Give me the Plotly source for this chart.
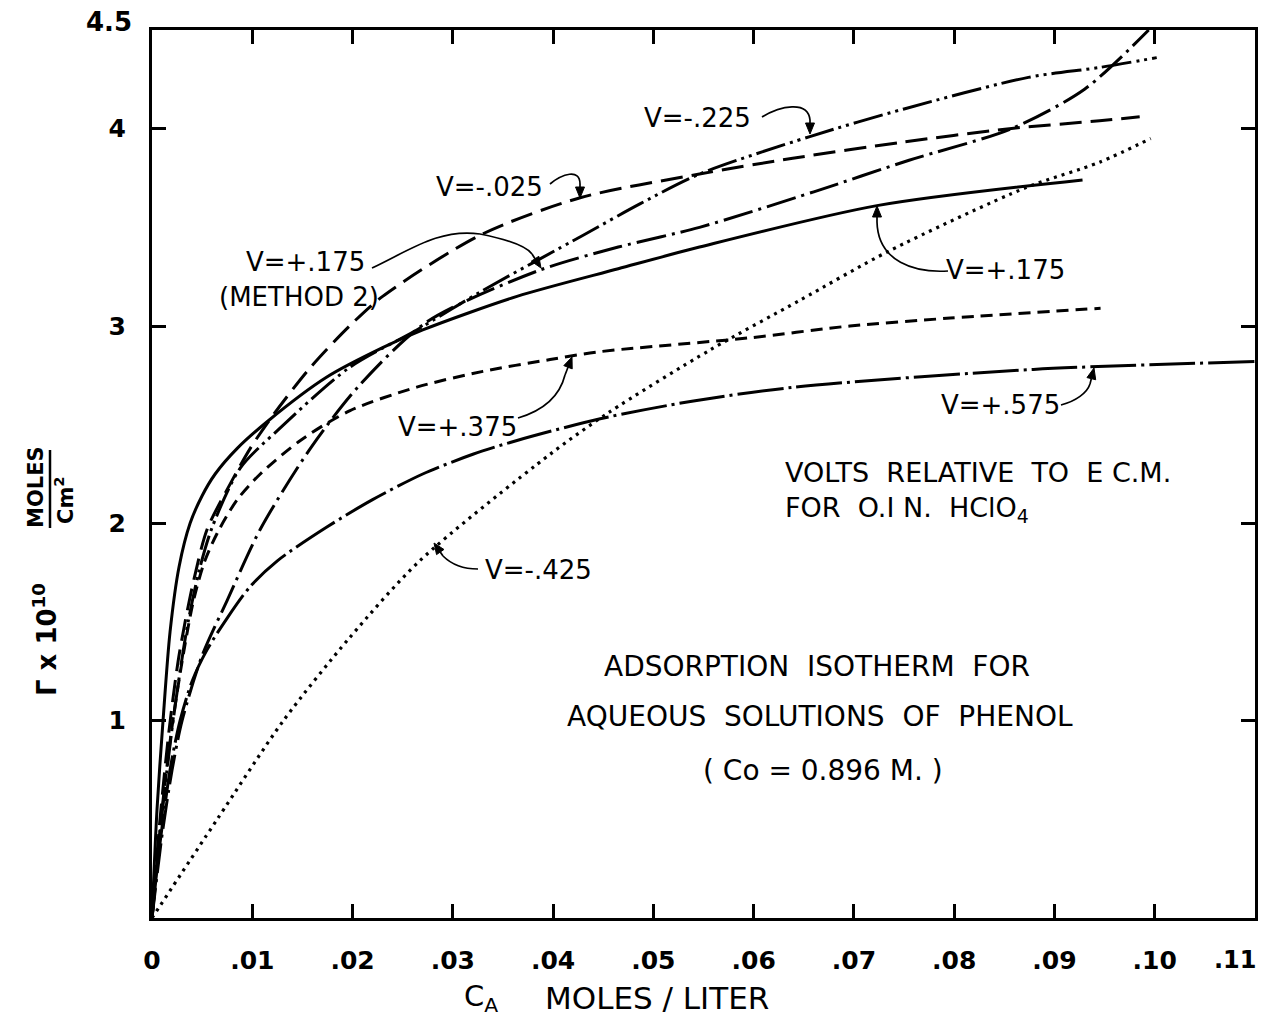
import plotly.graph_objects as go

# ---------------- data ----------------
x_m025 = [0, 0.0008, 0.0017, 0.0026, 0.0033, 0.0042, 0.0055, 0.0078, 0.0098, 0.0121, 0.0158, 0.0197, 0.023, 0.0327, 0.0427, 0.0546, 0.0639, 0.0746, 0.0855, 0.0945, 0.0985]
y_m025 = [0, 0.50, 0.95, 1.30, 1.50, 1.72, 1.97, 2.20, 2.38, 2.55, 2.79, 3.00, 3.15, 3.46, 3.65, 3.77, 3.85, 3.93, 4.00, 4.04, 4.06]

x_m225 = [0, 0.0009, 0.0019, 0.0028, 0.0036, 0.0047, 0.006, 0.0088, 0.0125, 0.0197, 0.0264, 0.033, 0.043, 0.0487, 0.0546, 0.0656, 0.075, 0.0874, 0.0945, 0.1002]
y_m225 = [0, 0.48, 0.92, 1.25, 1.50, 1.76, 1.98, 2.28, 2.47, 2.79, 2.98, 3.18, 3.46, 3.62, 3.77, 3.96, 4.10, 4.26, 4.31, 4.36]

x_p175m2 = [0, 0.001, 0.002, 0.003, 0.005, 0.0075, 0.0108, 0.0158, 0.0207, 0.0274, 0.0385, 0.0465, 0.0546, 0.066, 0.0755, 0.0857, 0.093, 0.0994]
y_p175m2 = [0, 0.42, 0.75, 1.00, 1.33, 1.61, 1.97, 2.38, 2.70, 3.02, 3.28, 3.40, 3.50, 3.68, 3.84, 4.00, 4.20, 4.50]

x_p175 = [0, 0.0005, 0.0011, 0.0018, 0.0027, 0.0038, 0.005, 0.0063, 0.0085, 0.0116, 0.0174, 0.023, 0.027, 0.0364, 0.0465, 0.0546, 0.0723, 0.0928]
y_p175 = [0, 0.55, 1.00, 1.45, 1.78, 2.00, 2.14, 2.25, 2.38, 2.52, 2.74, 2.89, 2.98, 3.15, 3.29, 3.40, 3.61, 3.74]

x_p375 = [0, 0.001, 0.002, 0.003, 0.0041, 0.0052, 0.0065, 0.0085, 0.0108, 0.0148, 0.0197, 0.0264, 0.033, 0.0397, 0.0447, 0.0596, 0.0696, 0.0796, 0.0946]
y_p375 = [0, 0.55, 0.97, 1.30, 1.60, 1.80, 1.95, 2.12, 2.25, 2.42, 2.57, 2.69, 2.77, 2.83, 2.87, 2.94, 3.00, 3.04, 3.09]

x_p575 = [0, 0.0005, 0.0011, 0.0019, 0.0028, 0.004, 0.0055, 0.0075, 0.0098, 0.0125, 0.0174, 0.022, 0.027, 0.032, 0.0364, 0.0447, 0.054, 0.0641, 0.0879, 0.11]
y_p575 = [0, 0.25, 0.50, 0.78, 1.00, 1.20, 1.36, 1.52, 1.68, 1.81, 1.98, 2.12, 2.25, 2.35, 2.42, 2.53, 2.62, 2.69, 2.78, 2.82]

x_m425 = [0, 0.0065, 0.0131, 0.0197, 0.0267, 0.0397, 0.0455, 0.0557, 0.0646, 0.0735, 0.0871, 0.0945, 0.0996]
y_m425 = [0, 0.50, 1.00, 1.42, 1.81, 2.35, 2.56, 2.88, 3.13, 3.38, 3.70, 3.83, 3.95]

x_tickvals = [0, 0.01, 0.02, 0.03, 0.04, 0.05, 0.06, 0.07, 0.08, 0.09, 0.10, 0.11]
x_ticktext = ["0", ".01", ".02", ".03", ".04", ".05", ".06", ".07", ".08", ".09", ".10", ".11"]
y_tickvals = [1, 2, 3, 4]
y_ticktext = ["1", "2", "3", "4"]

# ---------------- layout geometry (page pixels) ----------------
OFF = 8                      # default body margin of the page
W, H = 1256, 1011            # figure size
L, R, T, B = 152, 1255, 30, 918   # plot area edges in page pixels
XMAX, YMAX = 0.11, 4.5
FONT = "DejaVu Sans"


def dx(px):
    return (px - L) / (R - L) * XMAX


def dy(py):
    return (B - py) / (B - T) * YMAX


def px_(px):
    return (px - L) / (R - L)


def py_(py):
    return (B - py) / (B - T)


fig = go.Figure()

series = [
    (x_m025, y_m025, "22px,9px", 3),
    (x_m225, y_m225, "30px,5px,3px,5px,3px,5px", 3),
    (x_p175m2, y_p175m2, "30px,6px,3px,6px", 3),
    (x_p175, y_p175, "solid", 3),
    (x_p375, y_p375, "12px,7px", 3),
    (x_p575, y_p575, "46px,5px,3px,5px", 3),
    (x_m425, y_m425, "3px,5px", 3.2),
]
for xs, ys, dash, w in series:
    fig.add_trace(go.Scatter(
        x=xs, y=ys, mode="lines",
        line=dict(color="black", width=w, dash=dash, shape="spline", smoothing=0.8),
        showlegend=False, hoverinfo="skip"))

shapes = []
annotations = []


def label(text, cx, cy, size=26, xanchor="center", angle=0, weight="normal"):
    annotations.append(dict(
        x=px_(cx), y=py_(cy), xref="paper", yref="paper", text=text, showarrow=False,
        xanchor=xanchor, yanchor="middle", textangle=angle,
        font=dict(family=FONT, size=size, color="black", weight=weight)))


def connector(pts, tip):
    (x0, y0), (c1x, c1y), (c2x, c2y), (x1, y1) = pts
    shapes.append(dict(
        type="path", xref="x", yref="y",
        path=f"M {dx(x0)},{dy(y0)} C {dx(c1x)},{dy(c1y)} {dx(c2x)},{dy(c2y)} {dx(x1)},{dy(y1)}",
        line=dict(color="black", width=1.7)))
    if tip is not None:
        tx, ty = tip
        vx, vy = tx - x1, ty - y1
        n = (vx * vx + vy * vy) ** 0.5
        ux, uy = vx / n, vy / n
        bx, by = tx - 11 * ux, ty - 11 * uy
        p1 = (bx + 4.5 * uy, by - 4.5 * ux)
        p2 = (bx - 4.5 * uy, by + 4.5 * ux)
        shapes.append(dict(type="line", xref="x", yref="y",
                           x0=dx(x1), y0=dy(y1), x1=dx(bx), y1=dy(by),
                           line=dict(color="black", width=1.7)))
        shapes.append(dict(
            type="path", xref="x", yref="y",
            path=f"M {dx(tx)},{dy(ty)} L {dx(p1[0])},{dy(p1[1])} L {dx(p2[0])},{dy(p2[1])} Z",
            fillcolor="black", line=dict(color="black", width=1)))


# curve labels + connectors
label("V=-.025", 489, 187, size=26)
connector([(550, 184), (562, 174), (580, 168), (580, 184)], (580, 198))
label("V=-.225", 697, 118, size=26)
connector([(762, 117), (780, 106), (808, 100), (810, 120)], (810, 134))
label("V=+.175", 305, 262, size=26)
label("(METHOD 2)", 299, 297, size=26)
connector([(372, 268), (410, 250), (440, 228), (480, 234)], None)
connector([(480, 234), (510, 240), (526, 246), (532, 254)], (541, 268))
label("V=+.175", 1005, 270, size=26)
connector([(948, 271), (915, 273), (878, 262), (877, 222)], (877, 206))
label("V=+.375", 457, 427, size=26)
connector([(518, 418), (545, 410), (560, 395), (565, 375)], (572, 357))
label("V=+.575", 1000, 405, size=26)
connector([(1061, 405), (1076, 401), (1087, 393), (1090, 384)], (1094, 368))
label("V=-.425", 538, 570, size=26)
connector([(478, 569), (462, 569), (450, 563), (443, 556)], (434, 543))

# text blocks
NB = "\u00a0"
label(f"VOLTS{NB}{NB}RELATIVE{NB}{NB}TO{NB}{NB}E{NB}C.M.", 783, 472, size=27, xanchor="left")
label(f"FOR{NB}{NB}O.I{NB}N.{NB}{NB}HClO<sub>4</sub>", 783, 509, size=27, xanchor="left")
label(f"ADSORPTION{NB}{NB}ISOTHERM{NB}{NB}FOR", 817, 666, size=28)
label(f"AQUEOUS{NB}{NB}SOLUTIONS{NB}{NB}OF{NB}{NB}PHENOL", 820, 716, size=28)
label(f"({NB}Co{NB}={NB}0.896{NB}M.{NB})", 823, 770, size=28)

# axis titles
label("C<sub>A</sub>", 481, 998, size=29)
label("MOLES / LITER", 657, 998, size=31)
label("Γ x 10<sup>10</sup>", 45, 640, size=26, angle=-90, weight="bold")
label("MOLES", 36, 487, size=21, angle=-90, weight="bold")
label("Cm<sup>2</sup>", 64, 500, size=21, angle=-90, weight="bold")
shapes.append(dict(type="line", xref="paper", yref="paper",
                   x0=px_(50), x1=px_(50), y0=py_(450), y1=py_(528),
                   line=dict(color="black", width=2.5)))
label("4.5", 109, 22, size=26, weight="bold")
# last x tick label sits at the right corner: drawn slightly inward so it stays on the page
label(x_ticktext[-1], 1259, 960, size=24, weight="bold", xanchor="right")
shown_x_ticktext = x_ticktext[:-1] + [""]

fig.update_layout(
    width=W, height=H,
    margin=dict(l=L - OFF, r=(W + OFF) - R, t=T - OFF, b=(H + OFF) - B, autoexpand=False),
    paper_bgcolor="white", plot_bgcolor="white",
    shapes=shapes, annotations=annotations,
    showlegend=False,
)
fig.update_xaxes(
    range=[0, XMAX], tickvals=x_tickvals, ticktext=shown_x_ticktext,
    showgrid=False, zeroline=False, showline=True, linecolor="black", linewidth=3,
    mirror="ticks", ticks="inside", ticklen=14, tickwidth=2.5, tickcolor="black",
    ticklabelstandoff=18,
    tickfont=dict(family=FONT, size=25, color="black", weight="bold"))
fig.update_yaxes(
    range=[0, YMAX], tickvals=y_tickvals, ticktext=y_ticktext,
    showgrid=False, zeroline=False, showline=True, linecolor="black", linewidth=3,
    mirror="ticks", ticks="inside", ticklen=14, tickwidth=2.5, tickcolor="black",
    ticklabelstandoff=18,
    tickfont=dict(family=FONT, size=25, color="black", weight="bold"))

fig.write_html("out.html")
